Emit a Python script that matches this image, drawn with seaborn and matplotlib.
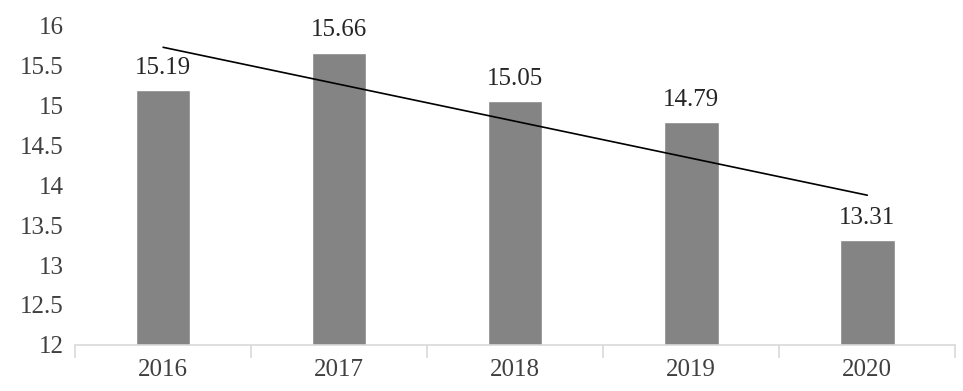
import numpy as np
import pandas as pd
import matplotlib
matplotlib.use("Agg")
import matplotlib.pyplot as plt
import seaborn as sns

years = ["2016", "2017", "2018", "2019", "2020"]
values = [15.19, 15.66, 15.05, 14.79, 13.31]
yticks = [12, 12.5, 13, 13.5, 14, 14.5, 15, 15.5, 16]

df = pd.DataFrame({"year": years, "value": values})

sns.set_style("white")
plt.rcParams["font.family"] = ["Liberation Serif", "DejaVu Serif"]

fig, ax = plt.subplots(figsize=(9.63, 3.91), dpi=100)
fig.subplots_adjust(left=0.078, right=0.992, top=0.935, bottom=0.118)

sns.barplot(data=df, x="year", y="value", color="#858484", width=0.31,
            saturation=1, ax=ax)

# linear trend line over the bars
xi = np.arange(len(values))
k, b = np.polyfit(xi, values, 1)
ax.plot(xi, k * xi + b, color="black", lw=1.2)

for i, v in enumerate(values):
    ax.text(i, v + 0.14, f"{v:.2f}", ha="center", va="bottom",
            fontsize=18, color="#262626")

ax.set_ylim(12, 16)
ax.set_xlim(-0.5, len(years) - 0.5)
ax.set_yticks(yticks)
ax.set_yticklabels([f"{t:g}" for t in yticks])
ax.set_xlabel("")
ax.set_ylabel("")
ax.tick_params(axis="both", labelsize=18, colors="#404040", length=0)
ax.tick_params(axis="y", pad=8)
ax.tick_params(axis="x", pad=10)
ax.set_xticks(np.arange(-0.5, len(years)), minor=True)
ax.tick_params(axis="x", which="minor", bottom=True, length=9,
               color="#d9d9d9", width=1.2)

for s in ["top", "right", "left"]:
    ax.spines[s].set_visible(False)
ax.spines["bottom"].set_color("#d9d9d9")
ax.spines["bottom"].set_linewidth(1.2)

fig.savefig("out.png", dpi=100)
